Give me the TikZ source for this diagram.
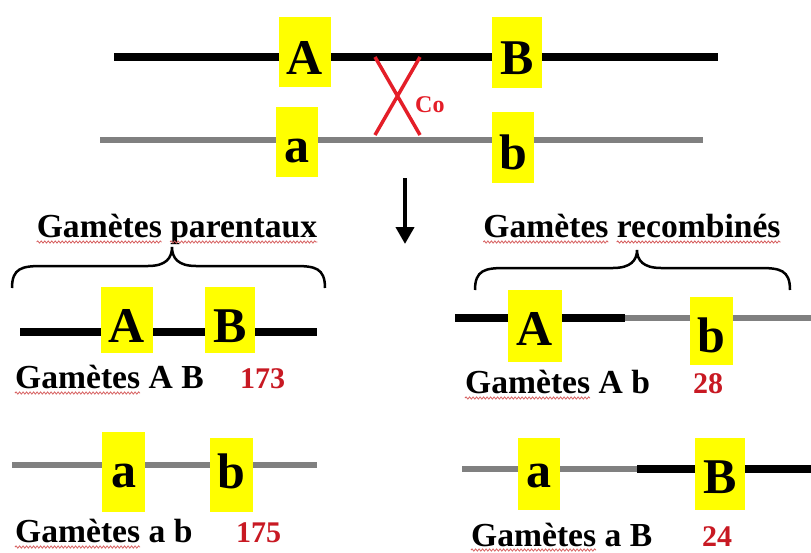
\documentclass[tikz,border=0pt]{standalone}
\usepackage{fontspec}
\setmainfont{Liberation Serif}
\usetikzlibrary{arrows.meta,decorations.pathmorphing}

\definecolor{geneyellow}{RGB}{255,255,0}
\definecolor{chromgray}{RGB}{128,128,128}
\definecolor{coRed}{RGB}{228,30,40}
\definecolor{numRed}{RGB}{200,25,35}
\definecolor{spellRed}{RGB}{215,95,95}

\tikzset{
  gene/.style={fill=geneyellow, inner sep=0pt, anchor=base,
    font=\fontsize{50}{50}\selectfont\bfseries},
  upper/.style={gene, minimum width=52pt},
  lower/.style={gene, minimum width=42pt},
  chromA/.style={line width=7.5pt, black},
  chroma/.style={line width=6pt, chromgray},
  label/.style={anchor=base west, inner sep=0pt,
    font=\fontsize{33.6}{34}\selectfont\bfseries},
  heading/.style={anchor=base, inner sep=0pt,
    font=\fontsize{33.6}{34}\selectfont\bfseries},
  count/.style={anchor=base west, inner sep=0pt, text=numRed,
    font=\fontsize{30}{30}\selectfont\bfseries},
  spell/.style={spellRed, line width=0.8pt, decorate,
    decoration={snake, segment length=3.5pt, amplitude=1.1pt}},
  bracepath/.style={line width=2.5pt, black},
  crossover/.style={coRed, line width=3.5pt},
  down/.style={line width=4pt, -{Triangle[width=18pt,length=17pt]}},
}

\begin{document}
\begin{tikzpicture}[x=1pt, y=-1pt]
  \fill[white] (0,0) rectangle (811,552);
  \useasboundingbox (0,0) rectangle (811,552);

  % ---- parental chromosomes ----
  \coordinate (t0) at (114,57);   \coordinate (t1) at (718,57);
  \coordinate (u0) at (100,139.5); \coordinate (u1) at (703,139.5);
  \draw[chromA] (t0) -- (t1);
  \draw[chroma] (u0) -- (u1);

  % crossing-over
  \coordinate (x1) at (375,57);  \coordinate (x2) at (420,135);
  \coordinate (x3) at (420,57);  \coordinate (x4) at (375,135);
  \draw[crossover] (x1) -- (x2) (x3) -- (x4);
  \node[anchor=base west, inner sep=0pt, text=coRed,
        font=\fontsize{24}{24}\selectfont\bfseries] (co) at (415,112) {Co};

  \node[upper, text height=57pt, text depth=13pt] (gA) at (305,74) {A};
  \node[upper, minimum width=50pt, text height=57pt, text depth=14pt] (gB) at (517,74) {B};
  \node[lower, text height=55pt, text depth=15pt] (ga) at (297,162) {a};
  \node[lower, text height=57pt, text depth=14pt] (gb) at (513,169) {b};

  % ---- arrow ----
  \coordinate (arT) at (405,178);
  \coordinate (arB) at (405,244);
  \draw[down] (arT) -- (arB);

  % ---- headings and braces ----
  \node[heading] (hP) at (177,237) {Gamètes parentaux};
  \node[heading] (hR) at (632,237) {Gamètes recombinés};
  \draw[spell] ([yshift=-5pt]hP.base west) -- ++(125,0);
  \draw[spell] ([xshift=133.4pt,yshift=-5pt]hP.base west) -- ([yshift=-5pt]hP.base east);
  \draw[spell] ([yshift=-5pt]hR.base west) -- ++(125,0);
  \draw[spell] ([xshift=133.4pt,yshift=-5pt]hR.base west) -- ([yshift=-5pt]hR.base east);

  \coordinate (bP0) at (12,288);  \coordinate (bP1) at (325,288);
  \draw[bracepath] (bP0) .. controls (12,268) and (22,266) .. (42,266)
    -- (148,266) .. controls (166,266) and (172,258) .. (172,247)
    .. controls (172,258) and (178,266) .. (196,266)
    -- (295,266) .. controls (315,266) and (325,268) .. (bP1);
  \coordinate (bR0) at (475,290);  \coordinate (bR1) at (790,290);
  \draw[bracepath] (bR0) .. controls (475,270) and (485,268) .. (505,268)
    -- (613,268) .. controls (631,268) and (637,260) .. (637,250)
    .. controls (637,260) and (643,268) .. (661,268)
    -- (760,268) .. controls (780,268) and (790,270) .. (bR1);

  % ---- parental gametes ----
  \coordinate (p0) at (20,332);  \coordinate (p1) at (317,332);
  \draw[chromA] (p0) -- (p1);
  \node[upper, text height=55pt, text depth=11pt] (pA) at (126.5,342) {A};
  \node[upper, minimum width=50pt, text height=55pt, text depth=11pt] (pB) at (230,342) {B};
  \node[label] (lAB) at (15,388) {Gamètes A B};
  \node[count] (nAB) at (240,388) {173};
  \draw[spell] ([yshift=-5pt]lAB.base west) -- ++(125,0);

  \coordinate (q0) at (12,465);  \coordinate (q1) at (317,465);
  \draw[chroma] (q0) -- (q1);
  \node[lower, minimum width=43pt, text height=55pt, text depth=25pt] (qa) at (123.5,487) {a};
  \node[lower, minimum width=43pt, text height=50pt, text depth=24pt] (qb) at (231.5,488) {b};
  \node[label] (lab) at (15,542) {Gamètes a b};
  \node[count] (nab) at (236,542) {175};
  \draw[spell] ([yshift=-5pt]lab.base west) -- ++(125,0);

  % ---- recombined gametes ----
  \coordinate (r0) at (455,318);  \coordinate (rm) at (625,318);  \coordinate (r1) at (811,318);
  \draw[chromA] (r0) -- (rm);
  \draw[chroma] (rm) -- (r1);
  \node[upper, minimum width=54pt, text height=55pt, text depth=17pt] (rA) at (535,345) {A};
  \node[lower, minimum width=43pt, text height=55pt, text depth=13pt] (rb) at (711.5,352) {b};
  \node[label] (lAb) at (465,393) {Gamètes A b};
  \node[count] (nAb) at (693,393) {28};
  \draw[spell] ([yshift=-5pt]lAb.base west) -- ++(125,0);

  \coordinate (s0) at (462,469);  \coordinate (sm) at (637,469);  \coordinate (s1) at (811,469);
  \draw[chroma] (s0) -- (sm);
  \draw[chromA] (sm) -- (s1);
  \node[lower, text height=49pt, text depth=23pt] (sa) at (539,487) {a};
  \node[upper, minimum width=50pt, text height=55pt, text depth=17pt] (sB) at (720,493) {B};
  \node[label] (laB) at (471,546) {Gamètes a B};
  \node[count] (naB) at (702,546) {24};
  \draw[spell] ([yshift=-4pt]laB.base west) -- ++(125,0);
\end{tikzpicture}
\end{document}
